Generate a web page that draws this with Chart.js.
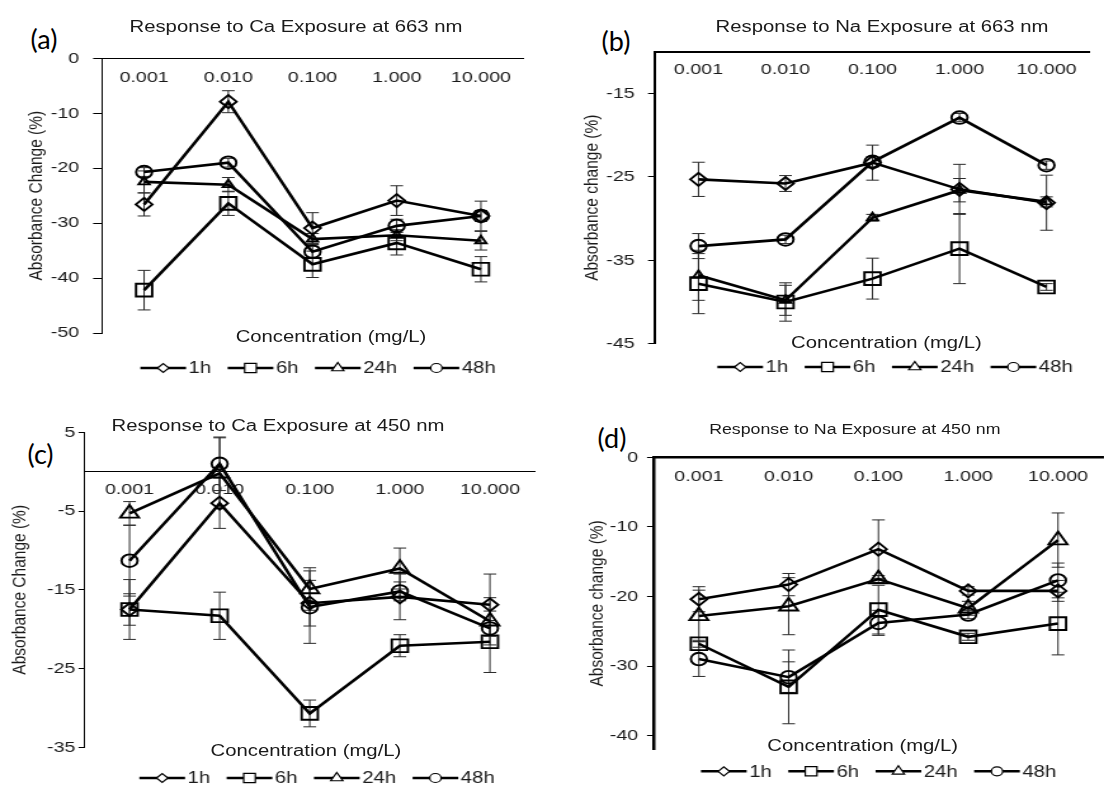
<!DOCTYPE html>
<html lang="en">
<head>
<meta charset="UTF-8">
<title>Absorbance change after Ca and Na exposure</title>
<script src="https://cdn.jsdelivr.net/npm/chart.js"></script>
<style>
  html, body { margin: 0; padding: 0; background: #fff; overflow: hidden; }
  body { width: 1104px; height: 786px; position: relative; font-family: "Liberation Sans", Arial, sans-serif; color: #1a1a1a; }
  .panel { position: absolute; transform-origin: 0 0; }
  .panel canvas { position: absolute; left: 0; top: 0; }
  .txt { position: absolute; white-space: nowrap; transform: translate(-50%, -50%); font-size: 16px; }
  .tag { position: absolute; white-space: nowrap; transform: translate(-50%, -50%); font-family: Lato, "Open Sans", sans-serif; font-size: 27px; color: #000; }
</style>
</head>
<body>
<script>
// the source figure is stretched sideways, so each panel is drawn narrow and scaled in x
const S = 1.269;

const concLabels = ['0.001', '0.010', '0.100', '1.000', '10.000'];
const timeLabels = ['1h', '6h', '24h', '48h'];

// (a) Ca, 663 nm
const ca663Values = [
  [-26.6, -7.9, -30.9, -25.9, -28.7],
  [-42.2, -26.4, -37.5, -33.6, -38.4],
  [-22.5, -23.0, -32.9, -32.2, -33.2],
  [-20.7, -19.0, -35.2, -30.5, -28.7]
];
const ca663Errors = [
  [2.1, 2.0, 2.8, 2.7, 2.7],
  [3.6, 2.2, 2.4, 2.2, 2.3],
  [2.0, 1.3, 1.0, 1.0, 1.7],
  [0.8, 0.8, 1.0, 1.2, 1.0]
];
const ca663Ticks = [0, -10, -20, -30, -40, -50];

// (b) Na, 663 nm
const na663Values = [
  [-25.3, -25.8, -23.3, -26.5, -28.1],
  [-37.8, -40.0, -37.2, -33.6, -38.2],
  [-36.8, -39.8, -29.9, -26.6, -28.0],
  [-33.3, -32.5, -23.2, -17.9, -23.6]
];
const na663Errors = [
  [2.05, 0.95, 2.1, 3.0, 3.3],
  [3.6, 2.3, 2.45, 4.2, 0.4],
  [3.0, 1.8, 0.4, 1.4, 0.6],
  [1.5, 0.5, 0.6, 0.5, 0.5]
];
const na663Ticks = [-15, -25, -35, -45];

// (c) Ca, 450 nm
const ca450Values = [
  [-17.5, -4.0, -16.7, -15.9, -16.9],
  [-17.5, -18.3, -30.7, -22.1, -21.6],
  [-5.3, -0.2, -14.9, -12.3, -19.0],
  [-11.3, 1.0, -17.2, -15.2, -19.9]
];
const ca450Errors = [
  [2.0, 3.2, 2.9, 2.9, 3.9],
  [3.8, 3.0, 1.7, 1.4, 3.9],
  [1.5, 4.5, 2.7, 2.6, 3.0],
  [4.5, 3.4, 4.6, 1.2, 1.0]
];
const ca450Ticks = [5, -5, -15, -25, -35];

// (d) Na, 450 nm
const na450Values = [
  [-20.4, -18.3, -13.2, -19.2, -19.2],
  [-26.8, -33.0, -21.9, -25.8, -23.9],
  [-22.8, -21.4, -17.5, -21.7, -11.9],
  [-29.0, -31.6, -23.8, -22.6, -17.7]
];
const na450Errors = [
  [1.8, 1.6, 4.2, 0.6, 1.5],
  [0.5, 5.3, 3.5, 0.5, 4.5],
  [3.7, 4.1, 0.5, 1.0, 3.9],
  [2.5, 2.2, 1.8, 0.6, 2.5]
];
const na450Ticks = [0, -10, -20, -30, -40];

const markerStyles = ['rectRot', 'rect', 'triangle', 'circle'];

// layout in page pixels
const panels = [
  { tag: '(a)', title: 'Response to Ca Exposure at 663 nm', yTitle: 'Absorbance Change (%)',
    values: ca663Values, errors: ca663Errors, ticks: ca663Ticks, min: -50, max: 0, axisAt: 0,
    box: [0, 0, 435, 393], area: [102, 523, 58.3, 333], yTitleX: 36, tickLen: 7, tickPad: 11, xPad: 9.7,
    border: 1, titleAt: [296, 27, 16], xTitleAt: [331, 337], legendAt: [318, 368], tagAt: [44, 38], triR: 5 },
  { tag: '(b)', title: 'Response to Na Exposure at 663 nm', yTitle: 'Absorbance change (%)',
    values: na663Values, errors: na663Errors, ticks: na663Ticks, min: -45, max: -10, axisAt: -10,
    box: [552, 0, 435, 393], area: [655, 1090, 51.7, 343.7], yTitleX: 592.5, tickLen: 5.5, tickPad: 10.5, xPad: 9,
    border: 2, titleAt: [882, 27, 16], xTitleAt: [886.5, 343], legendAt: [895, 367], tagAt: [616, 40], triR: 5 },
  { tag: '(c)', title: 'Response to Ca Exposure at 450 nm', yTitle: 'Absorbance Change (%)',
    values: ca450Values, errors: ca450Errors, ticks: ca450Ticks, min: -35, max: 5, axisAt: 0,
    box: [0, 393, 435, 393], area: [84.5, 535, 432.3, 747.3], yTitleX: 19.4, tickLen: 4.7, tickPad: 2.5, xPad: 9.1,
    border: 1, titleAt: [278, 426.3, 16], xTitleAt: [306, 750.7], legendAt: [317, 778], tagAt: [40.5, 453], triR: 8.5 },
  { tag: '(d)', title: 'Response to Na Exposure at 450 nm', yTitle: 'Absorbance change (%)',
    values: na450Values, errors: na450Errors, ticks: na450Ticks, min: -42, max: 0, axisAt: 0,
    box: [552, 393, 445, 393], area: [654, 1109, 457.3, 749.5], yTitleX: 597.8, tickLen: 5.5, tickPad: 7, xPad: 9.7,
    border: 2.5, titleAt: [854.8, 429, 14], xTitleAt: [862.7, 746.3], legendAt: [878.6, 771.3], tagAt: [612, 437], triR: 8.5 }
];

function drawMarker(ctx, style, x, y, r) {
  ctx.beginPath();
  if (style === 'rectRot') {
    ctx.moveTo(x - r, y); ctx.lineTo(x, y - r); ctx.lineTo(x + r, y); ctx.lineTo(x, y + r);
  } else if (style === 'rect') {
    const h = r * Math.SQRT1_2;
    ctx.rect(x - h, y - h, 2 * h, 2 * h);
  } else if (style === 'triangle') {
    ctx.moveTo(x, y - r); ctx.lineTo(x + r * 0.866, y + r / 2); ctx.lineTo(x - r * 0.866, y + r / 2);
  } else {
    ctx.arc(x, y, r, 0, Math.PI * 2);
  }
  ctx.closePath();
  ctx.fill();
  ctx.stroke();
}

const errorBars = {
  id: 'errorBars',
  beforeDatasetsDraw(chart, args, opts) {
    const ctx = chart.ctx;
    const yScale = chart.scales.y;
    ctx.save();
    ctx.strokeStyle = opts.color;
    ctx.lineWidth = opts.width;
    chart.data.datasets.forEach((ds, di) => {
      chart.getDatasetMeta(di).data.forEach((pt, i) => {
        const top = yScale.getPixelForValue(ds.data[i] + ds.errors[i]);
        const bot = yScale.getPixelForValue(ds.data[i] - ds.errors[i]);
        ctx.beginPath();
        ctx.moveTo(pt.x, top); ctx.lineTo(pt.x, bot);
        ctx.moveTo(pt.x - opts.cap, top); ctx.lineTo(pt.x + opts.cap, top);
        ctx.moveTo(pt.x - opts.cap, bot); ctx.lineTo(pt.x + opts.cap, bot);
        ctx.stroke();
      });
    });
    ctx.restore();
  }
};

const lineLegend = {
  id: 'lineLegend',
  afterDraw(chart, args, opts) {
    const ctx = chart.ctx;
    ctx.save();
    ctx.font = '16px "Liberation Sans", Arial, sans-serif';
    ctx.textBaseline = 'middle';
    const lineLen = 36, gap = 2, sep = 13;
    const items = chart.data.datasets.map(ds => ({ ds, w: ctx.measureText(ds.label).width }));
    const total = items.reduce((t, it) => t + lineLen + gap + it.w, 0) + sep * (items.length - 1);
    let x = opts.x - total / 2;
    const y = opts.y;
    items.forEach(it => {
      ctx.strokeStyle = '#000';
      ctx.lineWidth = 2.6;
      ctx.beginPath(); ctx.moveTo(x, y); ctx.lineTo(x + lineLen, y); ctx.stroke();
      ctx.fillStyle = '#fff';
      ctx.lineWidth = 1.2;
      drawMarker(ctx, it.ds.pointStyle, x + lineLen / 2, y, opts.radii[it.ds.pointStyle]);
      ctx.fillStyle = '#1a1a1a';
      ctx.fillText(it.ds.label, x + lineLen + gap, y + 1);
      x += lineLen + gap + it.w + sep;
    });
    ctx.restore();
  }
};

panels.forEach(p => {
  const [L, T, W, H] = p.box;
  const [aLeft, aRight, aTop, aBottom] = p.area;
  const ux = v => (v - L) / S;

  const tag = document.createElement('div');
  tag.className = 'tag';
  tag.style.left = p.tagAt[0] + 'px';
  tag.style.top = p.tagAt[1] + 'px';
  tag.textContent = p.tag;
  document.body.appendChild(tag);

  const wrap = document.createElement('div');
  wrap.className = 'panel';
  wrap.style.left = L + 'px';
  wrap.style.top = T + 'px';
  wrap.style.width = W + 'px';
  wrap.style.height = H + 'px';
  wrap.style.transform = 'scaleX(' + S + ')';
  const canvas = document.createElement('canvas');
  wrap.appendChild(canvas);

  const title = document.createElement('div');
  title.className = 'txt';
  title.style.left = ux(p.titleAt[0]) + 'px';
  title.style.top = (p.titleAt[1] - T) + 'px';
  title.style.fontSize = p.titleAt[2] + 'px';
  title.textContent = p.title;
  wrap.appendChild(title);

  const xTitle = document.createElement('div');
  xTitle.className = 'txt';
  xTitle.style.left = ux(p.xTitleAt[0]) + 'px';
  xTitle.style.top = (p.xTitleAt[1] - T) + 'px';
  xTitle.textContent = 'Concentration (mg/L)';
  wrap.appendChild(xTitle);

  document.body.appendChild(wrap);

  const radii = [6.5, 9, p.triR, 6.3];
  const datasets = timeLabels.map((name, i) => ({
    label: name,
    data: p.values[i],
    errors: p.errors[i],
    borderColor: '#000',
    borderWidth: 2.6,
    backgroundColor: 'rgba(0,0,0,0)',
    pointStyle: markerStyles[i],
    pointRadius: radii[i],
    pointBorderColor: '#000',
    pointBorderWidth: 1.9,
    pointBackgroundColor: 'rgba(0,0,0,0)',
    tension: 0,
    clip: false
  }));

  new Chart(canvas, {
    type: 'line',
    data: { labels: concLabels, datasets: datasets },
    plugins: [errorBars, lineLegend],
    options: {
      responsive: true,
      maintainAspectRatio: false,
      animation: false,
      events: [],
      layout: {
        padding: { left: 0, top: aTop - T, right: W - ux(aRight), bottom: H - (aBottom - T) }
      },
      plugins: {
        legend: { display: false },
        tooltip: { enabled: false },
        errorBars: { color: '#2a2a2a', width: 1, cap: 5 },
        lineLegend: { x: ux(p.legendAt[0]), y: p.legendAt[1] - T,
          radii: { rectRot: 4.5, rect: 6.5, triangle: 5.5, circle: 4.5 } }
      },
      scales: {
        x: {
          type: 'category',
          offset: true,
          position: { y: p.axisAt },
          grid: { display: false, drawTicks: false },
          border: { display: true, color: '#000', width: p.border },
          ticks: { padding: p.xPad, color: '#1a1a1a', font: { size: 15.5, family: '"Liberation Sans", Arial, sans-serif' }, maxRotation: 0, autoSkip: false },
          afterFit: s => { s.height = 0; }
        },
        y: {
          type: 'linear',
          position: 'left',
          min: p.min,
          max: p.max,
          afterBuildTicks: s => { s.ticks = p.ticks.map(v => ({ value: v })); },
          afterFit: s => { s.width = ux(aLeft); },
          grid: { display: true, drawOnChartArea: false, drawTicks: true, tickLength: p.tickLen, color: '#000', lineWidth: 1 },
          border: { display: true, color: '#000', width: p.border },
          ticks: { padding: p.tickPad, color: '#1a1a1a', font: { size: 15.5, family: '"Liberation Sans", Arial, sans-serif' } },
          title: {
            display: true,
            text: p.yTitle,
            color: '#1a1a1a',
            font: { size: 15.5, family: '"Liberation Sans", Arial, sans-serif' },
            padding: { top: ux(p.yTitleX) - 9.3, bottom: 0 }
          }
        }
      }
    }
  });
});
</script>
</body>
</html>
